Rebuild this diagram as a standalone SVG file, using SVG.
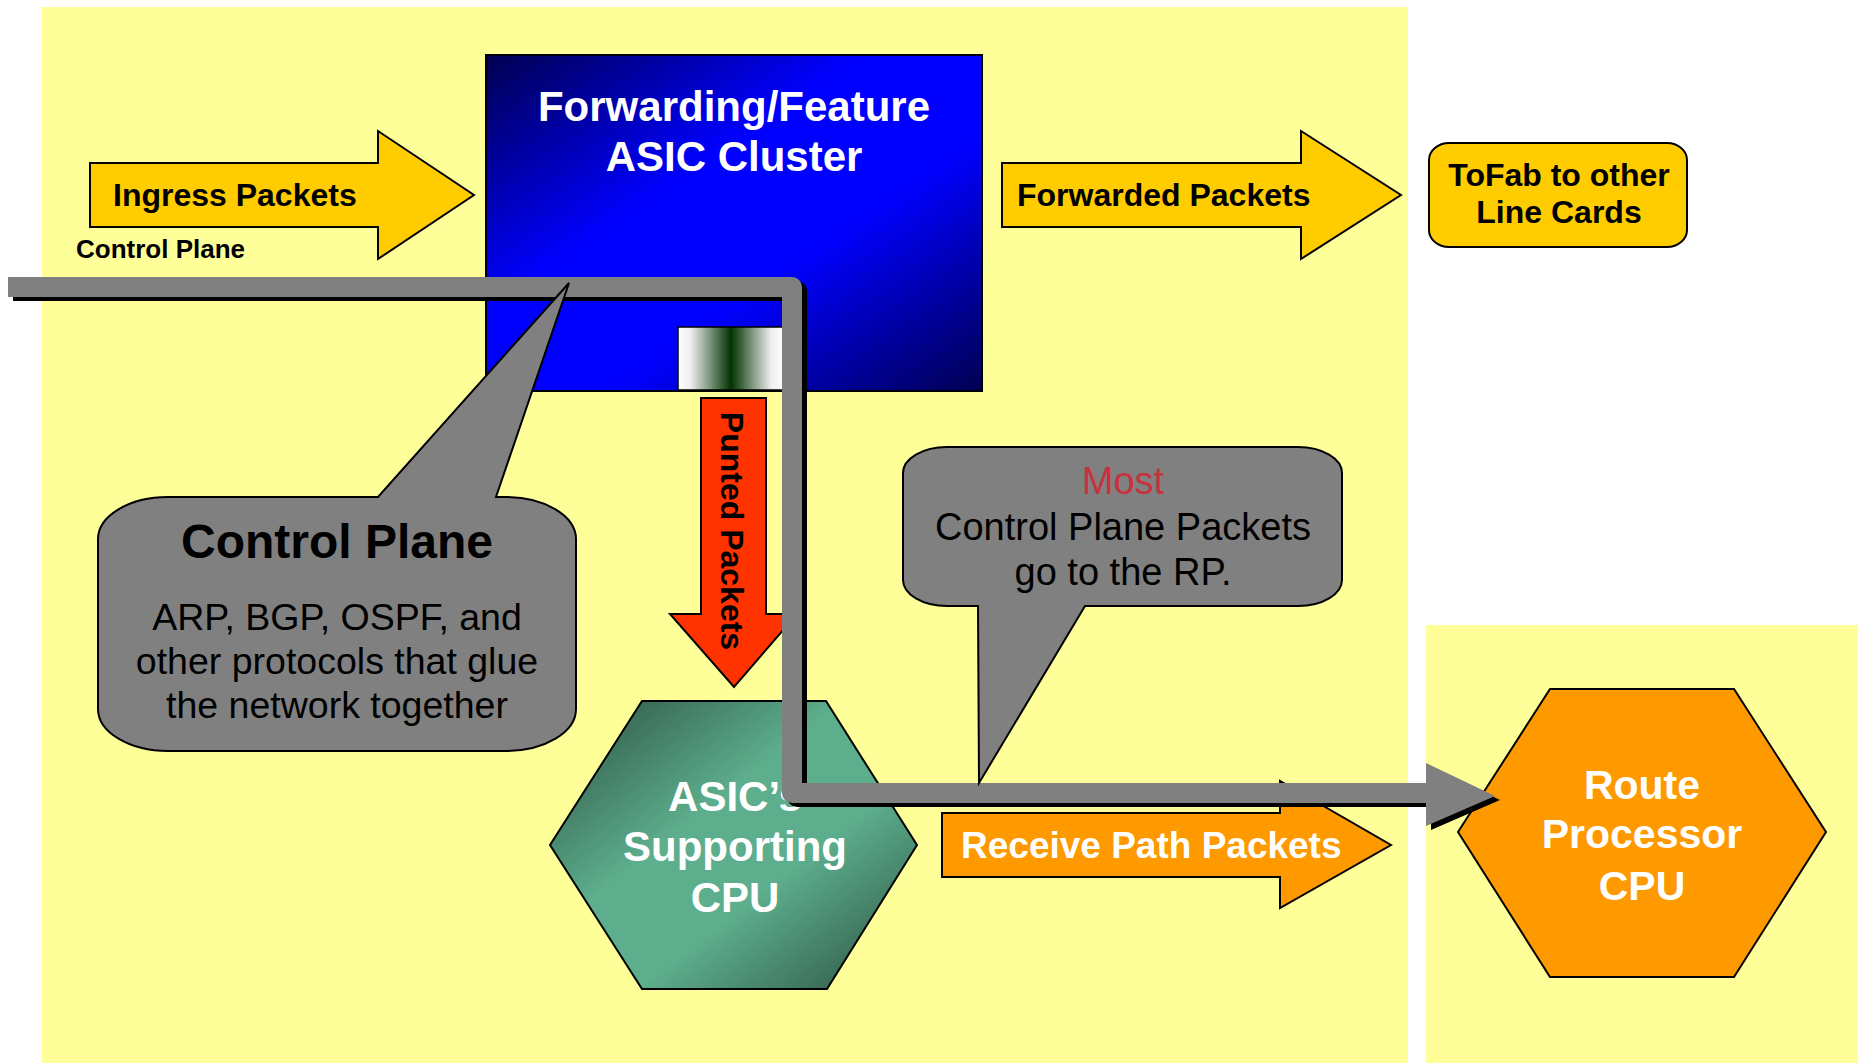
<svg xmlns="http://www.w3.org/2000/svg" width="1858" height="1063" viewBox="0 0 1858 1063">
<defs>
<linearGradient id="gBlue" x1="0" y1="0" x2="1" y2="1">
<stop offset="0" stop-color="#000050"/>
<stop offset="0.38" stop-color="#0000FF"/>
<stop offset="0.62" stop-color="#0000FF"/>
<stop offset="1" stop-color="#000050"/>
</linearGradient>
<linearGradient id="gGreen" x1="0" y1="0" x2="1" y2="1">
<stop offset="0" stop-color="#2A4E3E"/>
<stop offset="0.4" stop-color="#5DAE8D"/>
<stop offset="0.62" stop-color="#5DAE8D"/>
<stop offset="1" stop-color="#2A4E3E"/>
</linearGradient>
<linearGradient id="gPort" x1="0" y1="0" x2="1" y2="0">
<stop offset="0" stop-color="#FFFFFF"/>
<stop offset="0.12" stop-color="#EEEEEE"/>
<stop offset="0.5" stop-color="#003300"/>
<stop offset="0.88" stop-color="#EEEEEE"/>
<stop offset="1" stop-color="#FFFFFF"/>
</linearGradient>
<style>
.shp{stroke:#000;stroke-width:2}
.b{font-family:"Liberation Sans",Arial,sans-serif;font-weight:bold}
.r{font-family:"Liberation Sans",Arial,sans-serif}
.w{fill:#FFFFFF}
.k{fill:#000000}
.c{text-anchor:middle}
</style>
</defs>
<rect x="0" y="0" width="1858" height="1063" fill="#FFFFFF"/>
<rect x="42" y="7" width="1366" height="1056" fill="#FFFF99"/>
<rect x="1426" y="625" width="432" height="438" fill="#FFFF99"/>

<g id="asic-cluster">
<rect class="shp" x="486" y="55" width="496" height="336" fill="url(#gBlue)"/>
<rect x="678" y="327" width="106" height="63" fill="url(#gPort)" stroke="#000" stroke-width="1.5"/>
<text class="b w c" font-size="42" x="734" y="121">Forwarding/Feature</text>
<text class="b w c" font-size="42" x="734" y="171">ASIC Cluster</text>
</g>

<g id="ingress">
<polygon class="shp" fill="#FFCC00" points="90,163 378,163 378,131 474,195 378,259 378,227 90,227"/>
<text class="b k" font-size="32" x="113" y="206">Ingress Packets</text>
</g>

<g id="control-plane-label">
<text class="b k" font-size="26" x="76" y="258">Control Plane</text>
</g>

<g id="forwarded">
<polygon class="shp" fill="#FFCC00" points="1002,163 1301,163 1301,131 1401,195 1301,259 1301,227 1002,227"/>
<text class="b k" font-size="32" x="1017" y="206">Forwarded Packets</text>
</g>

<g id="tofab">
<rect class="shp" x="1429" y="143" width="258" height="104" rx="20" ry="17" fill="#FFCC00"/>
<text class="b k c" font-size="32" x="1559" y="186">ToFab to other</text>
<text class="b k c" font-size="32" x="1559" y="223">Line Cards</text>
</g>

<g id="punted">
<polygon class="shp" fill="#FF3300" points="701,398 766,398 766,614 797,614 734,687 670,614 701,614"/>
<text class="b k c" font-size="32" transform="translate(721,531) rotate(90)" x="0" y="0">Punted Packets</text>
</g>

<g id="asic-cpu">
<polygon class="shp" fill="url(#gGreen)" points="642,701 826,701 917,845 827,989 642,989 550,845"/>
<text class="b w c" font-size="42" x="735" y="811">ASIC’s</text>
<text class="b w c" font-size="42" x="735" y="861">Supporting</text>
<text class="b w c" font-size="42" x="735" y="912">CPU</text>
</g>

<g id="receive">
<polygon class="shp" fill="#FF9900" points="942,813 1280,813 1280,781 1391,845 1280,908 1280,877 942,877"/>
<text class="b w" font-size="37" x="961" y="858">Receive Path Packets</text>
</g>

<g id="route-processor">
<polygon class="shp" fill="#FF9900" points="1550,689 1734,689 1826,832 1734,977 1550,977 1458,832"/>
<text class="b w c" font-size="41" x="1642" y="799">Route</text>
<text class="b w c" font-size="41" x="1642" y="848">Processor</text>
<text class="b w c" font-size="41" x="1642" y="900">CPU</text>
</g>

<g id="connectors">
<g transform="translate(5,4)">
<path d="M8,287 H792 V793 H1428" fill="none" stroke="#000" stroke-width="20" stroke-linejoin="round"/>
<polygon points="1426,763 1495,796 1426,826" fill="#000"/>
</g>
<path d="M8,287 H792 V793 H1428" fill="none" stroke="#808080" stroke-width="20" stroke-linejoin="round"/>
<polygon points="1426,763 1495,796 1426,826" fill="#808080"/>
</g>

<g id="callout-control-plane">
<path class="shp" fill="#808080" d="M168,497 H378 L569,283 L496,497 H506 A70,42 0 0 1 576,539 V709 A70,42 0 0 1 506,751 H168 A70,42 0 0 1 98,709 V539 A70,42 0 0 1 168,497 Z"/>
<text class="b k c" font-size="48" x="337" y="558">Control Plane</text>
<text class="r k c" font-size="37.5" x="337" y="630">ARP, BGP, OSPF, and</text>
<text class="r k c" font-size="37.5" x="337" y="674">other protocols that glue</text>
<text class="r k c" font-size="37.5" x="337" y="718">the network together</text>
</g>

<g id="callout-most">
<path class="shp" fill="#808080" d="M947,447 H1298 A44,26 0 0 1 1342,473 V580 A44,26 0 0 1 1298,606 H1085 L979,783 L978,606 H947 A44,26 0 0 1 903,580 V473 A44,26 0 0 1 947,447 Z"/>
<text class="r c" font-size="38" fill="#C8323C" x="1123" y="494">Most</text>
<text class="r k c" font-size="38" x="1123" y="540">Control Plane Packets</text>
<text class="r k c" font-size="38" x="1123" y="585">go to the RP.</text>
</g>
</svg>
